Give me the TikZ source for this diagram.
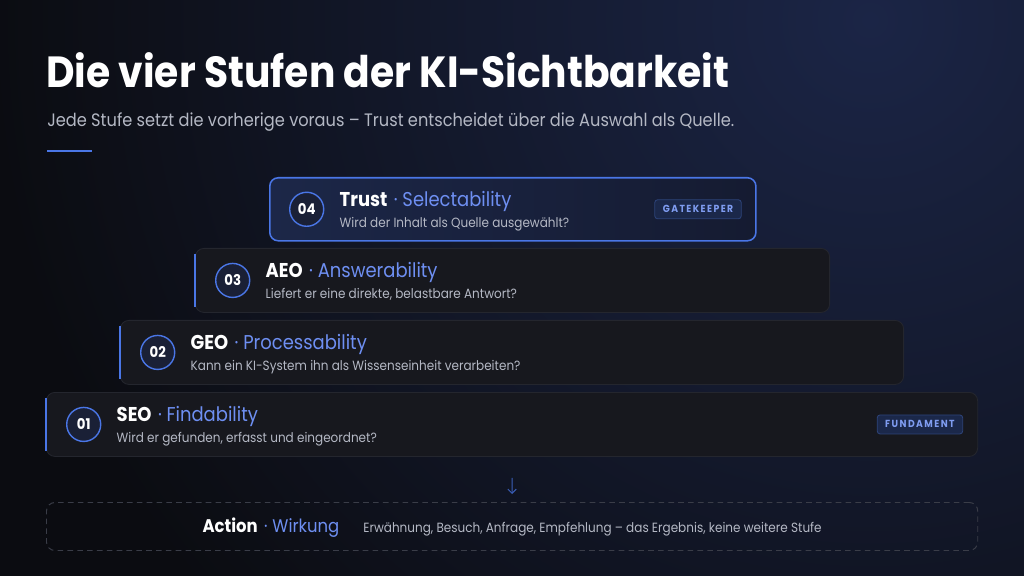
\documentclass[tikz,border=0pt]{standalone}
\usepackage{fontspec}
\setmainfont[FakeStretch=0.9]{Poppins}
\usepackage{tikz}
\usetikzlibrary{positioning,shapes,arrows.meta}

\definecolor{bgdark}{HTML}{0B0C11}
\definecolor{bgglow}{HTML}{1B2546}
\definecolor{cardfill}{HTML}{17181E}
\definecolor{cardline}{HTML}{24262E}
\definecolor{accent}{HTML}{4A76E6}
\definecolor{accenttxt}{HTML}{6E8FF2}
\definecolor{subtxt}{HTML}{B4B8C4}
\definecolor{numfill}{HTML}{1A2036}
\definecolor{badgefill}{HTML}{1B284A}
\definecolor{badgeline}{HTML}{2D4378}
\definecolor{badgetxt}{HTML}{7F9CF0}
\definecolor{topL}{HTML}{1C2748}
\definecolor{topR}{HTML}{151B31}
\definecolor{dashline}{HTML}{3A3D48}

\begin{document}
\begin{tikzpicture}[x=0.025cm, y=-0.025cm,
    stufe/.style={draw=cardline, fill=cardfill, line width=0.6pt, rounded corners=6pt, anchor=north west, minimum height=1.6cm, inner sep=0pt},
    oben/.style={stufe, draw=accent, line width=1.1pt, left color=topL, right color=topR},
    streifen/.style={accent, line width=1.6pt},
    nummer/.style={circle, draw=accent, fill=numfill, line width=1pt, minimum size=0.85cm, inner sep=0pt, text=white, font=\bfseries\fontsize{10.5}{12}\selectfont},
    titel/.style={anchor=base west, inner sep=0pt, text=white, font=\bfseries\fontsize{14.2}{17}\selectfont},
    frage/.style={anchor=base west, inner sep=0pt, text=subtxt, font=\fontsize{9.5}{11}\selectfont},
    marke/.style={draw=badgeline, fill=badgefill, rounded corners=2pt, line width=0.6pt, text=badgetxt, minimum height=0.475cm, inner xsep=0.2cm, inner ysep=0pt, font=\bfseries\fontsize{7.3}{8}\selectfont\addfontfeatures{LetterSpace=14}},
    pfeil/.style={-{Straight Barb[length=3pt, width=6pt]}, accent!80!black, line width=0.7pt, shorten <=0.525cm, shorten >=0.2cm}]

  % background with glow top right
  \fill[bgdark] (0,0) rectangle (1024,576);
  \begin{scope}
    \clip (0,0) rectangle (1024,576);
    \shade[inner color=bgglow, outer color=bgdark] (870,20) circle (22cm);
  \end{scope}
  \useasboundingbox (0,0) rectangle (1024,576);

  \node[anchor=base west, inner sep=0pt, text=white, font=\bfseries\fontsize{31}{35}\selectfont] (kopf) at (46,88) {Die vier Stufen der KI-Sichtbarkeit};
  \node[anchor=base west, inner sep=0pt, text=subtxt, font=\fontsize{12.8}{15}\selectfont] (unterzeile) at (47,127) {Jede Stufe setzt die vorherige voraus – Trust entscheidet über die Auswahl als Quelle.};
  \draw[accent, line width=1.5pt] (47,151) -- (92,151);

  % 04 Trust
  \node[oben, minimum width=12.15cm, minimum height=1.575cm] (s4) at (269,177) {};
  \node[nummer, right=0.5cm of s4.west] (n4) {04};
  \node[titel] (t4) at ([xshift=0.375cm, yshift=0.075cm]n4.east) {Trust\hspace{0.16cm}\textcolor{accenttxt}{\mdseries·\hspace{0.12cm}Selectability}};
  \node[frage] (f4) at ([xshift=0.375cm, yshift=-0.45cm]n4.east) {Wird der Inhalt als Quelle ausgewählt?};
  \node[marke, left=0.375cm of s4.east] (m4) {GATEKEEPER};

  % 03 AEO
  \node[stufe, minimum width=15.85cm] (s3) at (195,248) {};
  \draw[streifen] ([yshift=-4pt]s3.north west) -- ([yshift=4pt]s3.south west);
  \node[nummer, right=0.5cm of s3.west] (n3) {03};
  \node[titel] (t3) at ([xshift=0.375cm, yshift=0.075cm]n3.east) {AEO\hspace{0.16cm}\textcolor{accenttxt}{\mdseries·\hspace{0.12cm}Answerability}};
  \node[frage] (f3) at ([xshift=0.375cm, yshift=-0.45cm]n3.east) {Liefert er eine direkte, belastbare Antwort?};

  % 02 GEO
  \node[stufe, minimum width=19.575cm] (s2) at (120,320) {};
  \draw[streifen] ([yshift=-4pt]s2.north west) -- ([yshift=4pt]s2.south west);
  \node[nummer, right=0.5cm of s2.west] (n2) {02};
  \node[titel] (t2) at ([xshift=0.375cm, yshift=0.075cm]n2.east) {GEO\hspace{0.16cm}\textcolor{accenttxt}{\mdseries·\hspace{0.12cm}Processability}};
  \node[frage] (f2) at ([xshift=0.375cm, yshift=-0.45cm]n2.east) {Kann ein KI-System ihn als Wissenseinheit verarbeiten?};

  % 01 SEO
  \node[stufe, minimum width=23.275cm] (s1) at (46,392) {};
  \draw[streifen] ([yshift=-4pt]s1.north west) -- ([yshift=4pt]s1.south west);
  \node[nummer, right=0.5cm of s1.west] (n1) {01};
  \node[titel] (t1) at ([xshift=0.375cm, yshift=0.075cm]n1.east) {SEO\hspace{0.16cm}\textcolor{accenttxt}{\mdseries·\hspace{0.12cm}Findability}};
  \node[frage] (f1) at ([xshift=0.375cm, yshift=-0.45cm]n1.east) {Wird er gefunden, erfasst und eingeordnet?};
  \node[marke, left=0.375cm of s1.east] (m1) {FUNDAMENT};

  % Wirkung
  \node[draw=dashline, line width=0.7pt, dash pattern=on 4pt off 3pt, rounded corners=6pt, anchor=north west, minimum width=23.275cm, minimum height=1.2cm, inner sep=0pt] (wirkung) at (46,502) {};
  \node[anchor=base, inner sep=0pt, text=white] (wtext) at ([yshift=-0.15cm]wirkung.center) {{\bfseries\fontsize{13}{15}\selectfont Action}\hspace{0.16cm}{\fontsize{13}{15}\selectfont\color{accenttxt}·\hspace{0.12cm}Wirkung}\hspace{0.6cm}{\color{subtxt}\fontsize{9.5}{11}\selectfont Erwähnung, Besuch, Anfrage, Empfehlung – das Ergebnis, keine weitere Stufe}};
  \draw[pfeil] (s1.south) -- (wirkung.north);
\end{tikzpicture}
\end{document}
